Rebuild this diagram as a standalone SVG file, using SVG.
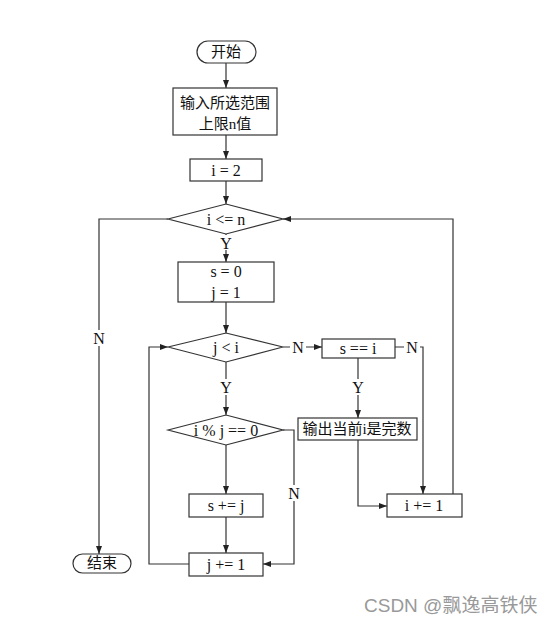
<svg xmlns="http://www.w3.org/2000/svg" width="551" height="623" viewBox="0 0 551 623">
<defs>
<marker id="ah" markerWidth="8" markerHeight="6" refX="8" refY="3" orient="auto" markerUnits="userSpaceOnUse">
<path d="M0,0 L8,3 L0,6 Z" fill="#222"/>
</marker>
<style>
.s{fill:#fff;stroke:#333;stroke-width:1.2}
.c{fill:none;stroke:#333;stroke-width:1.2}
text{font-family:"Liberation Serif","Noto Sans CJK SC",serif;font-size:16px;fill:#111;text-anchor:middle;dominant-baseline:central}
.zh{font-size:15px}
.wm{font-family:"Liberation Sans","Noto Sans CJK SC",sans-serif;font-size:19px;fill:#999;text-anchor:start}
</style>
</defs>
<rect width="551" height="623" fill="#fff"/>
<g id="connectors">
<path class="c" d="M226,63 V88" marker-end="url(#ah)"/>
<path class="c" d="M226,135 V159" marker-end="url(#ah)"/>
<path class="c" d="M226,181 V204" marker-end="url(#ah)"/>
<path class="c" d="M226,234 V262" marker-end="url(#ah)"/>
<path class="c" d="M168,219 H99 V554" marker-end="url(#ah)"/>
<path class="c" d="M453,494 V219 H283" marker-end="url(#ah)"/>
<path class="c" d="M226,302 V333" marker-end="url(#ah)"/>
<path class="c" d="M283,347 H322" marker-end="url(#ah)"/>
<path class="c" d="M395,347 H423 V494" marker-end="url(#ah)"/>
<path class="c" d="M358,358 V418" marker-end="url(#ah)"/>
<path class="c" d="M358,440 V506 H387" marker-end="url(#ah)"/>
<path class="c" d="M226,362 V415" marker-end="url(#ah)"/>
<path class="c" d="M283,430 H294 V564 H263" marker-end="url(#ah)"/>
<path class="c" d="M226,445 V494" marker-end="url(#ah)"/>
<path class="c" d="M226,517 V553" marker-end="url(#ah)"/>
<path class="c" d="M189,564 H149 V347 H168" marker-end="url(#ah)"/>
</g>
<g id="labels">
<rect x="219" y="235" width="14" height="15" fill="#fff"/>
<text x="226" y="243">Y</text>
<rect x="92" y="330" width="14" height="16" fill="#fff"/>
<text x="99" y="338">N</text>
<rect x="290" y="339" width="16" height="16" fill="#fff"/>
<text x="298" y="347">N</text>
<rect x="404" y="339" width="16" height="16" fill="#fff"/>
<text x="412" y="347">N</text>
<rect x="219" y="379" width="14" height="16" fill="#fff"/>
<text x="226" y="387">Y</text>
<rect x="351" y="379" width="14" height="16" fill="#fff"/>
<text x="358" y="387">Y</text>
<rect x="287" y="485" width="14" height="16" fill="#fff"/>
<text x="294" y="493">N</text>
</g>
<g id="start">
<rect class="s" x="197" y="41" width="59" height="22" rx="11"/>
<text class="zh" x="226" y="52">开始</text>
</g>
<g id="input">
<rect class="s" x="173" y="88" width="104" height="47"/>
<text class="zh" x="225" y="103">输入所选范围</text>
<text class="zh" x="225" y="124">上限n值</text>
</g>
<g id="init-i">
<rect class="s" x="190" y="159" width="72" height="22"/>
<text x="226" y="170">i = 2</text>
</g>
<g id="cond-i">
<polygon class="s" points="168,219 226,204 283,219 226,234"/>
<text x="226" y="219">i &lt;= n</text>
</g>
<g id="init-sj">
<rect class="s" x="178" y="262" width="96" height="40"/>
<text x="226" y="271">s = 0</text>
<text x="226" y="292">j = 1</text>
</g>
<g id="cond-j">
<polygon class="s" points="168,347 226,333 283,347 226,362"/>
<text x="226" y="347">j &lt; i</text>
</g>
<g id="cond-s">
<rect class="s" x="322" y="339" width="73" height="19"/>
<text x="358" y="348">s == i</text>
</g>
<g id="cond-mod">
<polygon class="s" points="168,430 226,415 283,430 226,445"/>
<text x="226" y="430">i % j == 0</text>
</g>
<g id="output">
<rect class="s" x="298" y="418" width="119" height="22"/>
<text class="zh" x="357" y="429">输出当前i是完数</text>
</g>
<g id="add-s">
<rect class="s" x="189" y="494" width="74" height="23"/>
<text x="226" y="505">s += j</text>
</g>
<g id="inc-i">
<rect class="s" x="387" y="494" width="75" height="23"/>
<text x="424" y="505">i += 1</text>
</g>
<g id="inc-j">
<rect class="s" x="189" y="553" width="74" height="23"/>
<text x="226" y="564">j += 1</text>
</g>
<g id="end">
<rect class="s" x="73" y="554" width="58" height="19" rx="9.5"/>
<text class="zh" x="102" y="563">结束</text>
</g>
<text class="wm" x="364" y="605">CSDN @飘逸高铁侠</text>
</svg>
